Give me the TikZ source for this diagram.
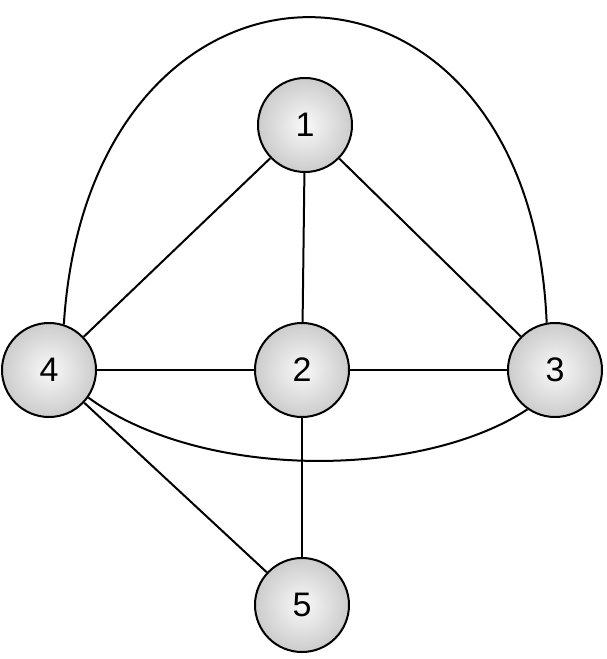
\documentclass[tikz,border=0pt]{standalone}
\usepackage{fontspec}
\setmainfont{Liberation Sans}
\begin{document}
\begin{tikzpicture}[x=1pt,y=-1pt,
  vtx/.style={circle,draw,line width=2pt,minimum size=94pt,inner sep=0pt,
    shading=radial,inner color=gray!5,outer color=gray!40,font=\fontsize{34}{34}\selectfont},
  edge/.style={line width=2pt}]
\useasboundingbox (0,0) rectangle (606,659);
\node[vtx] (n1) at (305,125) {1};
\node[vtx] (n2) at (302,370) {2};
\node[vtx] (n3) at (555,370) {3};
\node[vtx] (n4) at (49,370) {4};
\node[vtx] (n5) at (302,605) {5};
\draw[edge] (n1)--(n2);
\draw[edge] (n1)--(n3);
\draw[edge] (n1)--(n4);
\draw[edge] (n4)--(n2);
\draw[edge] (n2)--(n3);
\draw[edge] (n2)--(n5);
\draw[edge] (n4)--(n5);
\draw[edge] (n4.72) .. controls (90,-85) and (530,-85) .. (n3.100);
\draw[edge] (n4.-35) .. controls (200,480) and (420,480) .. (n3.-125);
\end{tikzpicture}
\end{document}
